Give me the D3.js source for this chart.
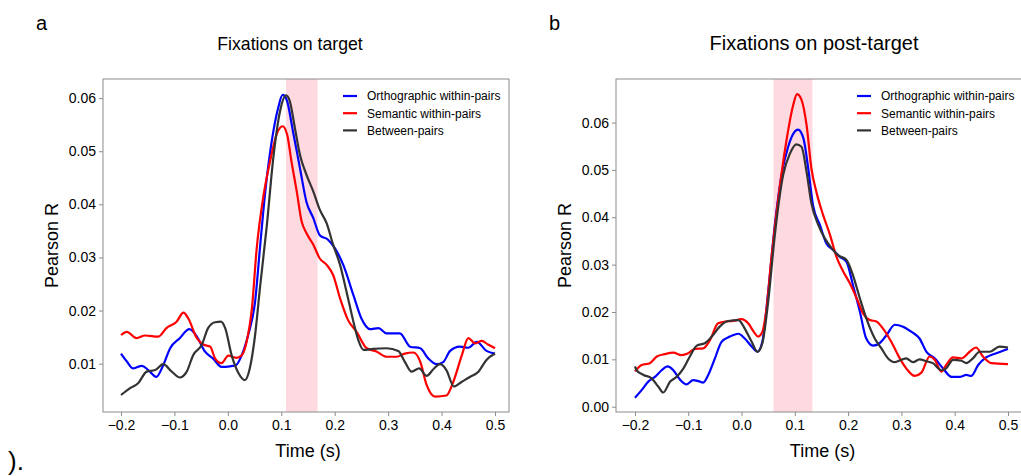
<!DOCTYPE html>
<html>
<head>
<meta charset="utf-8">
<script src="https://cdn.jsdelivr.net/npm/d3@7"></script>
<style>
body { margin: 0; background: #fff; }
svg { display: block; }
text { font-family: "Liberation Sans", Arial, sans-serif; fill: #000; }
</style>
</head>
<body>
<svg id="fig" width="1021" height="476"></svg>
<script>
// names / colours of the three correlation series
const seriesNames = ["Orthographic within-pairs", "Semantic within-pairs", "Between-pairs"];
const seriesColors = ["#0000ff", "#ff0000", "#333333"];

const xTicks = [-0.2, -0.1, 0.0, 0.1, 0.2, 0.3, 0.4, 0.5];
const yTicksA = [0.01, 0.02, 0.03, 0.04, 0.05, 0.06];
const yTicksB = [0.00, 0.01, 0.02, 0.03, 0.04, 0.05, 0.06];

// shaded time windows (s)
const windowA = [0.109, 0.168];
const windowB = [0.060, 0.133];

// panel a : fixations on target, [time, r]
const targetOrtho = [[-0.2,0.0119],[-0.189,0.0104],[-0.177,0.0091],[-0.161,0.0096],[-0.149,0.0088],[-0.134,0.0075],
  [-0.121,0.0097],[-0.108,0.0129],[-0.09,0.0148],[-0.072,0.0165],[-0.058,0.0151],[-0.043,0.0123],[-0.027,0.0109],
  [-0.012,0.0094],[0.004,0.0095],[0.015,0.0097],[0.026,0.0116],[0.038,0.0154],[0.051,0.0217],[0.06,0.0317],
  [0.07,0.0424],[0.082,0.0518],[0.094,0.0581],[0.1026,0.0606],[0.11,0.0597],[0.1225,0.0534],[0.135,0.0468],
  [0.147,0.0405],[0.16,0.0374],[0.172,0.0342],[0.188,0.0333],[0.2005,0.0317],[0.216,0.0286],[0.235,0.0229],
  [0.25,0.0185],[0.266,0.0165],[0.282,0.0167],[0.297,0.0157],[0.322,0.0157],[0.341,0.0132],[0.36,0.0129],
  [0.375,0.011],[0.391,0.0099],[0.403,0.0103],[0.416,0.0124],[0.434,0.0132],[0.45,0.013],[0.466,0.0141],
  [0.484,0.0124],[0.5,0.0119]];
const targetSem = [[-0.2,0.0154],[-0.189,0.016],[-0.171,0.0148],[-0.155,0.0153],[-0.13,0.0151],[-0.115,0.0167],
  [-0.096,0.0179],[-0.083,0.0196],[-0.074,0.0185],[-0.058,0.0148],[-0.046,0.0136],[-0.033,0.0132],[-0.024,0.011],
  [-0.012,0.0101],[0.001,0.0115],[0.016,0.0111],[0.026,0.0116],[0.035,0.0141],[0.045,0.0204],[0.054,0.0317],
  [0.066,0.0412],[0.079,0.0481],[0.091,0.0531],[0.1025,0.0547],[0.111,0.0531],[0.119,0.0481],[0.129,0.0424],
  [0.138,0.0368],[0.147,0.0346],[0.16,0.0324],[0.172,0.0298],[0.185,0.0286],[0.197,0.0267],[0.21,0.0223],
  [0.225,0.0182],[0.241,0.016],[0.26,0.0129],[0.278,0.0123],[0.297,0.0113],[0.316,0.0113],[0.331,0.0119],
  [0.347,0.0121],[0.36,0.0104],[0.372,0.006],[0.388,0.0038],[0.409,0.004],[0.422,0.0066],[0.438,0.0116],
  [0.45,0.0148],[0.463,0.0138],[0.475,0.0143],[0.487,0.0136],[0.5,0.0129]];
const targetBetween = [[-0.2,0.0041],[-0.183,0.0054],[-0.168,0.0063],[-0.152,0.0085],[-0.136,0.0088],[-0.121,0.0099],
  [-0.105,0.0085],[-0.09,0.0074],[-0.077,0.0085],[-0.065,0.0116],[-0.049,0.0135],[-0.037,0.0167],[-0.024,0.0178],
  [-0.013,0.0179],[-0.005,0.0167],[0.007,0.0116],[0.02,0.0082],[0.032,0.0069],[0.041,0.0091],[0.051,0.0154],
  [0.06,0.0242],[0.073,0.0361],[0.085,0.0487],[0.0976,0.0575],[0.109,0.0605],[0.116,0.0594],[0.1256,0.0543],
  [0.135,0.0493],[0.147,0.0456],[0.16,0.0424],[0.172,0.039],[0.185,0.0364],[0.197,0.0324],[0.21,0.0286],
  [0.222,0.0236],[0.235,0.0179],[0.244,0.0145],[0.254,0.0126],[0.272,0.0128],[0.297,0.0129],[0.319,0.0124],
  [0.331,0.0104],[0.344,0.0085],[0.358,0.0091],[0.372,0.0077],[0.385,0.009],[0.397,0.0099],[0.409,0.0088],
  [0.423,0.0057],[0.438,0.0066],[0.453,0.0075],[0.469,0.0085],[0.484,0.0107],[0.5,0.0119]];

// panel b : fixations on post-target
const postOrtho = [[-0.2,0.0019],[-0.1875,0.0035],[-0.175,0.0053],[-0.1625,0.0063],[-0.15,0.0077],[-0.139,0.0085],
  [-0.128,0.0077],[-0.116,0.0058],[-0.103,0.0047],[-0.091,0.0056],[-0.081,0.0054],[-0.072,0.0051],[-0.0625,0.0067],
  [-0.05,0.0102],[-0.0375,0.0137],[-0.022,0.0148],[-0.006,0.0154],[0.006,0.0144],[0.019,0.0127],[0.03,0.0116],
  [0.039,0.0137],[0.05,0.0243],[0.0625,0.0384],[0.075,0.0489],[0.0875,0.0549],[0.1,0.0581],[0.106,0.0585],
  [0.116,0.0567],[0.125,0.0504],[0.134,0.0426],[0.147,0.0384],[0.159,0.0345],[0.172,0.0331],[0.184,0.0317],
  [0.197,0.0306],[0.209,0.0257],[0.222,0.0201],[0.234,0.0144],[0.247,0.0129],[0.259,0.0134],[0.272,0.0151],
  [0.2875,0.0173],[0.303,0.0169],[0.319,0.0158],[0.334,0.0144],[0.347,0.0116],[0.3625,0.0102],[0.378,0.0081],
  [0.394,0.0063],[0.409,0.0063],[0.422,0.0067],[0.431,0.0065],[0.444,0.0088],[0.459,0.0104],[0.478,0.0113],[0.5,0.0122]];
const postSem = [[-0.2,0.0075],[-0.1875,0.0088],[-0.172,0.0092],[-0.159,0.0106],[-0.144,0.0111],[-0.128,0.0114],
  [-0.1125,0.0109],[-0.1,0.0113],[-0.0875,0.0122],[-0.072,0.0123],[-0.059,0.0141],[-0.044,0.0176],[-0.028,0.018],
  [-0.016,0.0181],[0.0,0.0185],[0.0125,0.0176],[0.023,0.0158],[0.031,0.0148],[0.039,0.0158],[0.047,0.0208],
  [0.056,0.0313],[0.069,0.044],[0.084,0.056],[0.097,0.0637],[0.104,0.066],[0.1125,0.0648],[0.122,0.0595],
  [0.131,0.0504],[0.141,0.0451],[0.153,0.0405],[0.166,0.0363],[0.178,0.0317],[0.191,0.0285],[0.203,0.0261],
  [0.216,0.0229],[0.228,0.0197],[0.2405,0.0183],[0.253,0.018],[0.2655,0.0165],[0.281,0.0137],[0.297,0.0102],
  [0.309,0.0081],[0.325,0.0065],[0.3375,0.0072],[0.353,0.0106],[0.3625,0.0099],[0.375,0.0074],[0.384,0.0088],
  [0.397,0.0104],[0.4125,0.0102],[0.428,0.0116],[0.44,0.0125],[0.453,0.0106],[0.469,0.0092],[0.5,0.009]];
const postBetween = [[-0.2,0.0085],[-0.197,0.0077],[-0.184,0.0067],[-0.169,0.006],[-0.156,0.0042],[-0.147,0.003],
  [-0.134,0.0053],[-0.122,0.0063],[-0.109,0.0081],[-0.097,0.0106],[-0.084,0.0129],[-0.069,0.0134],[-0.056,0.0148],
  [-0.041,0.0169],[-0.025,0.0181],[-0.006,0.0183],[0.006,0.0165],[0.019,0.0137],[0.03,0.0116],[0.039,0.0134],
  [0.05,0.0222],[0.0625,0.0363],[0.078,0.0489],[0.091,0.0535],[0.103,0.0554],[0.1125,0.0549],[0.122,0.0496],
  [0.131,0.043],[0.144,0.0384],[0.156,0.0356],[0.169,0.0335],[0.181,0.032],[0.197,0.031],[0.209,0.0278],
  [0.222,0.0229],[0.234,0.0187],[0.25,0.0144],[0.2625,0.0123],[0.275,0.0102],[0.2875,0.0094],[0.3,0.0099],
  [0.309,0.0102],[0.322,0.0094],[0.334,0.01],[0.347,0.0096],[0.359,0.0092],[0.375,0.0077],[0.384,0.0081],
  [0.397,0.0099],[0.4125,0.0097],[0.422,0.0092],[0.434,0.0102],[0.447,0.0116],[0.466,0.0116],[0.484,0.0127],[0.5,0.0125]];

const svg = d3.select("#fig");
const fmtX = d3.format(".1f");
const fmtY = d3.format(".2f");

function drawPanel(p) {
  const x = d3.scaleLinear().domain(p.xDom).range([p.left, p.right]);
  const y = d3.scaleLinear().domain(p.yDom).range([p.bottom, p.top]);
  const g = svg.append("g");

  g.append("rect")
    .attr("x", x(p.win[0])).attr("y", p.top)
    .attr("width", x(p.win[1]) - x(p.win[0])).attr("height", p.bottom - p.top)
    .attr("fill", "#ffd9e0");

  const line = d3.line().x(d => x(d[0])).y(d => y(d[1])).curve(d3.curveMonotoneX);
  p.series.forEach((s, i) => {
    g.append("path").datum(s)
      .attr("d", line)
      .attr("fill", "none")
      .attr("stroke", seriesColors[i])
      .attr("stroke-width", 2.2)
      .attr("stroke-linejoin", "round");
  });

  // frame
  g.append("rect")
    .attr("x", p.left).attr("y", p.top)
    .attr("width", p.right - p.left).attr("height", p.bottom - p.top)
    .attr("fill", "none").attr("stroke", "#8c8c8c").attr("stroke-width", 1);

  const xAxis = g.append("g")
    .attr("transform", `translate(0,${p.bottom})`)
    .call(d3.axisBottom(x).tickValues(xTicks).tickFormat(fmtX).tickSize(4).tickPadding(4).tickSizeOuter(0));
  const yAxis = g.append("g")
    .attr("transform", `translate(${p.left},0)`)
    .call(d3.axisLeft(y).tickValues(p.yTicks).tickFormat(fmtY).tickSize(4).tickPadding(3).tickSizeOuter(0));
  [xAxis, yAxis].forEach(a => {
    a.select(".domain").remove();
    a.selectAll(".tick line").attr("stroke", "#8c8c8c");
    a.selectAll(".tick text").attr("font-size", 14).attr("font-family", "Liberation Sans, Arial, sans-serif").attr("fill", "#000");
  });

  // legend
  const lg = g.append("g");
  seriesNames.forEach((n, i) => {
    const yy = 96 + i * 17.2;
    lg.append("line").attr("x1", p.legX).attr("x2", p.legX + 14).attr("y1", yy).attr("y2", yy)
      .attr("stroke", seriesColors[i]).attr("stroke-width", 2.2);
    lg.append("text").attr("x", p.legX + 24).attr("y", yy + 4.3).attr("font-size", 12).text(n);
  });

  g.append("text").attr("x", p.titleX).attr("y", 50).attr("text-anchor", "middle")
    .attr("font-size", p.titleSize).text(p.title);
  g.append("text").attr("x", p.letterX).attr("y", 30).attr("font-size", 20).text(p.letter);
  g.append("text").attr("x", (p.left + Math.min(p.right, 1021)) / 2 + p.xLabShift).attr("y", 457)
    .attr("text-anchor", "middle").attr("font-size", 18).text("Time (s)");
  g.append("text").attr("transform", `translate(${p.yLabX},${(p.top + p.bottom) / 2}) rotate(-90)`)
    .attr("text-anchor", "middle").attr("font-size", 18).text("Pearson R");
}

drawPanel({
  left: 103, right: 509, top: 79, bottom: 412,
  xDom: [-0.2337, 0.5262], yDom: [0.0009, 0.0636],
  yTicks: yTicksA, win: windowA,
  series: [targetOrtho, targetSem, targetBetween],
  legX: 343, title: "Fixations on target", titleX: 290, titleSize: 17.7,
  letter: "a", letterX: 36, yLabX: 58, xLabShift: 2
});

drawPanel({
  left: 616, right: 1022, top: 79, bottom: 412,
  xDom: [-0.2356, 0.5263], yDom: [-0.00112, 0.0692],
  yTicks: yTicksB, win: windowB,
  series: [postOrtho, postSem, postBetween],
  legX: 857, title: "Fixations on post-target", titleX: 814, titleSize: 20,
  letter: "b", letterX: 549, yLabX: 571, xLabShift: 4
});

svg.append("text").attr("x", 8).attr("y", 470)
  .attr("font-family", "Liberation Serif, Times New Roman, serif").attr("font-size", 26).text(").");
</script>
</body>
</html>
